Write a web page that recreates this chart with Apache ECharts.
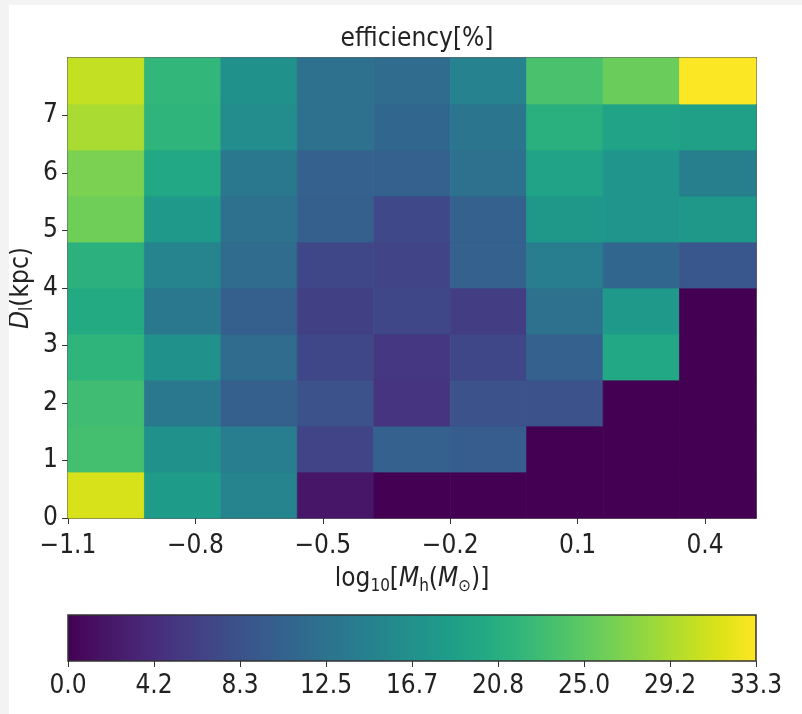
<!DOCTYPE html>
<html>
<head>
<meta charset="utf-8">
<script src="https://cdn.jsdelivr.net/npm/echarts@6/dist/echarts.min.js"></script>
<style>
  html, body { margin: 0; padding: 0; background: #f3f3f3; }
  .frame { position: absolute; left: 9px; top: 5px; width: 793px; height: 709px; background: #fff; }
  #chart { width: 793px; height: 709px; }
</style>
</head>
<body>
<div class="frame"><div id="chart"></div></div>
<script>
// bin edges of the map
const xEdges = [-1.1, -0.92, -0.74, -0.56, -0.38, -0.2, -0.02, 0.16, 0.34, 0.52]
const yEdges = [0, 0.8, 1.6, 2.4, 3.2, 4.0, 4.8, 5.6, 6.4, 7.2, 8.0]

// efficiency [%], one row per D_l bin, bottom row first
const efficiency = [
  [31.3, 18.3, 15.0, 2.0, 0, 0, 0, 0, 0],
  [23.3, 16.7, 14.0, 6.7, 10.3, 9.7, 0, 0, 0],
  [23.0, 13.3, 10.0, 8.3, 5.0, 8.3, 8.3, 0, 0],
  [21.7, 16.7, 11.7, 7.0, 5.3, 7.0, 10.3, 20.0, 0],
  [20.3, 13.3, 10.0, 6.3, 7.0, 6.0, 12.3, 18.0, 0],
  [21.3, 15.0, 11.7, 7.0, 6.7, 10.3, 14.0, 11.0, 9.0],
  [26.0, 18.0, 12.3, 10.0, 7.3, 10.3, 17.7, 17.3, 17.7],
  [26.7, 20.0, 13.3, 10.3, 10.3, 12.3, 19.3, 17.3, 14.3],
  [29.0, 21.7, 16.0, 12.3, 11.0, 13.0, 21.0, 19.3, 19.0],
  [30.3, 22.0, 16.7, 12.3, 11.7, 14.7, 23.7, 25.7, 33.3]
]

// ticks
const xTicks = [-1.1, -0.8, -0.5, -0.2, 0.1, 0.4]
const yTicks = [0, 1, 2, 3, 4, 5, 6, 7]
const cbarMax = 100 / 3
const cbarTicks = [0, 4.1667, 8.3333, 12.5, 16.6667, 20.8333, 25, 29.1667, 33.3333]

const viridis = ['#440154', '#471365', '#482475', '#463480', '#414487', '#3b528b', '#355f8d',
  '#2f6c8e', '#2a788e', '#25848e', '#21918c', '#1e9c89', '#22a884', '#2fb47c', '#44bf70',
  '#5ec962', '#7ad151', '#9bd93c', '#bddf26', '#dfe318', '#fde725']

const FONT = "'Liberation Sans Narrow', 'DejaVu Sans Condensed', sans-serif"
const TXT = '#222'
const FS = 26

// build cells [x0, x1, y0, y1, value]
const cells = []
for (let j = 0; j < efficiency.length; j++) {
  for (let i = 0; i < efficiency[j].length; i++) {
    cells.push([xEdges[i], xEdges[i + 1], yEdges[j], yEdges[j + 1], efficiency[j][i]])
  }
}

const minus = v => String(v).replace('-', '\u2212')

const chart = echarts.init(document.getElementById('chart'))

const subRich = {
  t: { fontSize: FS, fontFamily: FONT, color: TXT, lineHeight: 30 },
  i: { fontSize: FS, fontFamily: FONT, color: TXT, lineHeight: 30, fontStyle: 'italic' },
  s: { fontSize: 17, fontFamily: FONT, color: TXT, lineHeight: 18, padding: [14, 0, 0, 0] }
}

const option = {
  animation: false,
  title: {
    text: 'efficiency[%]',
    left: 403,
    top: 16,
    textAlign: 'center',
    textStyle: { fontFamily: FONT, fontSize: FS, fontWeight: 'normal', color: TXT }
  },
  visualMap: {
    show: false,
    type: 'continuous',
    min: 0,
    max: cbarMax,
    dimension: 4,
    seriesIndex: 0,
    inRange: { color: viridis }
  },
  grid: [
    { left: 59, top: 53, width: 688, height: 460, containLabel: false, outerBoundsMode: 'none' },
    { left: 59, top: 610, width: 688, height: 46, containLabel: false, outerBoundsMode: 'none' }
  ],
  xAxis: [
    {
      type: 'value', gridIndex: 0, min: xEdges[0], max: xEdges[xEdges.length - 1],
      splitLine: { show: false },
      axisLine: { show: true, onZero: false, lineStyle: { color: '#333', width: 1.5 } },
      axisTick: { show: true, length: 6, customValues: xTicks, lineStyle: { color: '#333' } },
      axisLabel: {
        customValues: xTicks, formatter: v => minus(v.toFixed(1)),
        fontFamily: FONT, fontSize: FS, color: TXT, margin: 15
      },
      name: '{t|log}{s|10}{t|[}{i|M}{s|h}{t|(}{i|M}{s|\u2299}{t|)]}',
      nameLocation: 'middle',
      nameGap: 40,
      nameTextStyle: { rich: subRich }
    },
    {
      type: 'value', gridIndex: 0, position: 'top', min: xEdges[0], max: xEdges[xEdges.length - 1],
      splitLine: { show: false }, axisTick: { show: false }, axisLabel: { show: false },
      axisLine: { show: true, onZero: false, lineStyle: { color: '#333', width: 1.5 } }
    },
    {
      type: 'value', gridIndex: 1, min: 0, max: cbarMax,
      splitLine: { show: false },
      axisLine: { show: false },
      axisTick: { show: true, length: 6, customValues: cbarTicks, lineStyle: { color: '#333' } },
      axisLabel: {
        customValues: cbarTicks, formatter: v => v.toFixed(1),
        fontFamily: FONT, fontSize: FS, color: TXT, margin: 12
      }
    }
  ],
  yAxis: [
    {
      type: 'value', gridIndex: 0, min: yEdges[0], max: yEdges[yEdges.length - 1],
      splitLine: { show: false },
      axisLine: { show: true, onZero: false, lineStyle: { color: '#333', width: 1.5 } },
      axisTick: { show: true, length: 6, customValues: yTicks, lineStyle: { color: '#333' } },
      axisLabel: { customValues: yTicks, fontFamily: FONT, fontSize: FS, color: TXT, margin: 10 },
      name: '{i|D}{s|l}{t|(kpc)}',
      nameLocation: 'middle',
      nameGap: 32,
      nameMoveOverlap: false,
      nameRotate: 90,
      nameTextStyle: { rich: subRich }
    },
    {
      type: 'value', gridIndex: 0, position: 'right', min: yEdges[0], max: yEdges[yEdges.length - 1],
      splitLine: { show: false }, axisTick: { show: false }, axisLabel: { show: false },
      axisLine: { show: true, onZero: false, lineStyle: { color: '#333', width: 1.5 } }
    },
    {
      type: 'value', gridIndex: 1, min: 0, max: 1, show: false
    }
  ],
  series: [
    {
      type: 'custom',
      xAxisIndex: 0,
      yAxisIndex: 0,
      data: cells,
      encode: { x: [0, 1], y: [2, 3] },
      renderItem: (params, api) => {
        const p0 = api.coord([api.value(0), api.value(3)])
        const p1 = api.coord([api.value(1), api.value(2)])
        const c = api.visual('color')
        return {
          type: 'rect',
          shape: { x: p0[0], y: p0[1], width: p1[0] - p0[0], height: p1[1] - p0[1] },
          style: { fill: c, stroke: c, lineWidth: 0.8 }
        }
      }
    },
    {
      // colorbar
      type: 'custom',
      xAxisIndex: 2,
      yAxisIndex: 2,
      data: [[0, cbarMax, 0, 1]],
      renderItem: (params, api) => {
        const p0 = api.coord([api.value(0), api.value(3)])
        const p1 = api.coord([api.value(1), api.value(2)])
        const stops = viridis.map((c, k) => ({ offset: k / (viridis.length - 1), color: c }))
        return {
          type: 'rect',
          shape: { x: p0[0], y: p0[1], width: p1[0] - p0[0], height: p1[1] - p0[1] },
          style: {
            fill: new echarts.graphic.LinearGradient(0, 0, 1, 0, stops),
            stroke: '#333', lineWidth: 1.5
          }
        }
      }
    }
  ]
}
chart.setOption(option)
</script>
</body>
</html>
